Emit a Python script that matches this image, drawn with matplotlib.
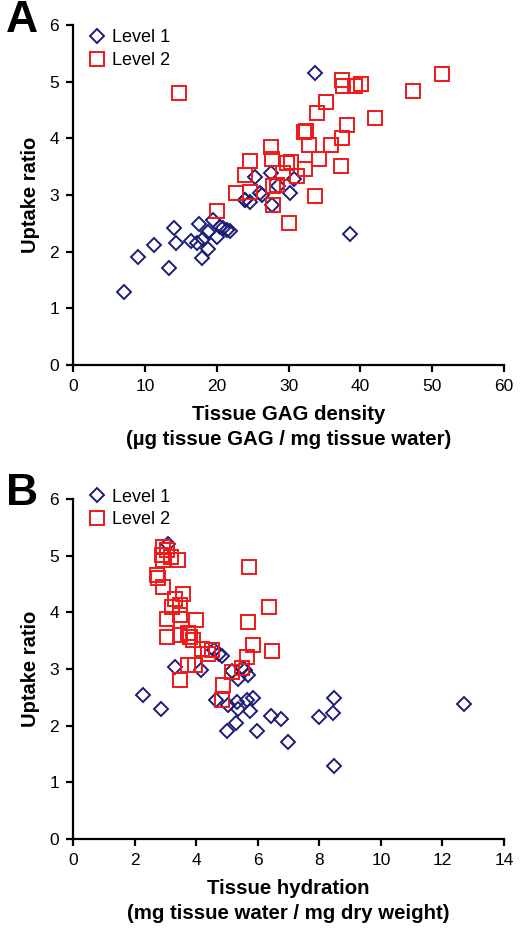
import matplotlib.pyplot as plt

plt.rcParams['font.family'] = ['Liberation Sans', 'DejaVu Sans']

# Panel A: tissue GAG density vs uptake ratio
gag_l1 = [7.1, 9.0, 11.2, 13.3, 14.1, 14.4, 16.4, 17.3, 17.6, 17.9, 18.1, 18.8, 18.8,
          19.5, 20.1, 20.5, 20.9, 21.4, 21.9, 23.9, 24.0, 24.6, 25.3, 26.0, 26.3, 27.6,
          27.7, 28.5, 30.2, 30.7, 33.7, 38.6]
upt_l1_a = [1.28, 1.90, 2.12, 1.72, 2.42, 2.15, 2.19, 2.15, 2.48, 1.89, 2.23, 2.04, 2.35,
            2.56, 2.26, 2.44, 2.42, 2.39, 2.36, 2.91, 2.91, 2.88, 3.31, 3.03, 3.0, 3.38,
            2.83, 3.16, 3.03, 3.29, 5.16, 2.31]

gag_l2 = [14.7, 20.0, 22.7, 24.6, 24.0, 24.7, 27.5, 27.7, 27.9, 27.9, 28.4, 29.2, 29.8,
          30.3, 30.1, 31.2, 32.3, 32.1, 32.5, 32.9, 33.7, 33.9, 34.3, 35.2, 35.9, 37.3,
          37.4, 37.5, 37.6, 38.2, 39.3, 40.1, 42.1, 47.4, 51.3]
upt_l2_a = [4.80, 2.72, 3.03, 3.06, 3.35, 3.60, 3.84, 3.64, 2.82, 3.15, 3.17, 3.38, 3.56,
            3.59, 2.50, 3.33, 3.45, 4.11, 4.13, 3.89, 2.98, 4.45, 3.63, 4.64, 3.89, 3.51,
            4.01, 5.03, 4.93, 4.24, 4.92, 4.95, 4.35, 4.83, 5.13]

# Panel B: tissue hydration vs uptake ratio
hyd_l1 = [2.26, 2.85, 3.09, 3.30, 4.14, 4.58, 4.74, 4.85, 4.64, 5.04, 4.99, 5.15, 5.31,
          5.37, 5.37, 5.29, 5.50, 5.58, 5.64, 5.69, 5.75, 5.83, 5.98, 6.42, 6.76, 6.99,
          7.99, 8.43, 8.48, 8.47, 12.7]
upt_l1_b = [2.54, 2.30, 5.20, 3.04, 2.98, 3.33, 3.26, 3.23, 2.46, 2.36, 1.91, 2.96, 2.42,
            2.30, 2.83, 2.04, 3.02, 2.98, 2.45, 2.89, 2.26, 2.48, 1.90, 2.17, 2.11, 1.71,
            2.15, 2.22, 2.48, 1.28, 2.38]

hyd_l2 = [2.93, 3.04, 2.88, 2.93, 3.17, 3.42, 2.72, 2.77, 2.93, 3.58, 3.31, 3.20, 3.47,
          3.04, 3.47, 3.99, 3.04, 3.47, 3.74, 3.80, 3.89, 4.18, 4.39, 4.50, 3.74, 3.96,
          3.47, 4.88, 4.83, 5.15, 5.50, 5.64, 5.85, 6.45, 5.67, 6.37, 5.72]
upt_l2_b = [5.16, 5.10, 5.01, 4.93, 4.98, 4.92, 4.66, 4.60, 4.44, 4.33, 4.24, 4.10, 4.13,
            3.89, 3.95, 3.87, 3.57, 3.60, 3.63, 3.57, 3.51, 3.36, 3.27, 3.33, 3.07, 3.07,
            2.80, 2.72, 2.46, 2.95, 3.02, 3.22, 3.42, 3.32, 3.83, 4.10, 4.80]

navy = '#1c1c7a'
red = '#f01818'

fig = plt.figure(figsize=(5.22, 9.35), dpi=100)
ax1 = fig.add_axes([0.140, 0.6096, 0.8255, 0.3637])
ax2 = fig.add_axes([0.140, 0.1027, 0.8255, 0.3636])


def style_axes(ax, xmax, xstep, xlabel, leg_y):
    ax.set_xlim(0, xmax)
    ax.set_ylim(0, 6)
    ax.set_xticks(range(0, xmax + 1, xstep))
    ax.set_yticks(range(0, 7))
    for s in ['top', 'right']:
        ax.spines[s].set_visible(False)
    for s in ['left', 'bottom']:
        ax.spines[s].set_linewidth(1.6)
        ax.spines[s].set_color('black')
    ax.tick_params(direction='out', length=5, width=1.6, labelsize=12.5, pad=5)
    ax.set_xlabel(xlabel, fontsize=14.7, fontweight='bold', linespacing=1.4, labelpad=8)
    ax.set_ylabel("Uptake ratio", fontsize=14.5, fontweight='bold', labelpad=7)
    ax.legend(loc='upper left', bbox_to_anchor=(0.0, leg_y), frameon=False, fontsize=13,
              handletextpad=0.25, labelspacing=0.3, borderaxespad=0.3, handlelength=1.2)


ax1.plot(gag_l1, upt_l1_a, 'D', ms=7.6, mfc='none', mec=navy, mew=1.4, label='Level 1')
ax1.plot(gag_l2, upt_l2_a, 's', ms=10.5, mfc='none', mec=red, mew=1.4, label='Level 2')
style_axes(ax1, 60, 10, "Tissue GAG density\n(µg tissue GAG / mg tissue water)", 1.024)

ax2.plot(hyd_l1, upt_l1_b, 'D', ms=7.6, mfc='none', mec=navy, mew=1.4, label='Level 1')
ax2.plot(hyd_l2, upt_l2_b, 's', ms=10.5, mfc='none', mec=red, mew=1.4, label='Level 2')
style_axes(ax2, 14, 2, "Tissue hydration\n(mg tissue water / mg dry weight)", 1.068)

fig.text(0.012, 1.0, "A", fontsize=32, fontweight='bold', va='top', ha='left')
fig.text(0.012, 0.494, "B", fontsize=32, fontweight='bold', va='top', ha='left')

fig.savefig("out.png", dpi=100)
